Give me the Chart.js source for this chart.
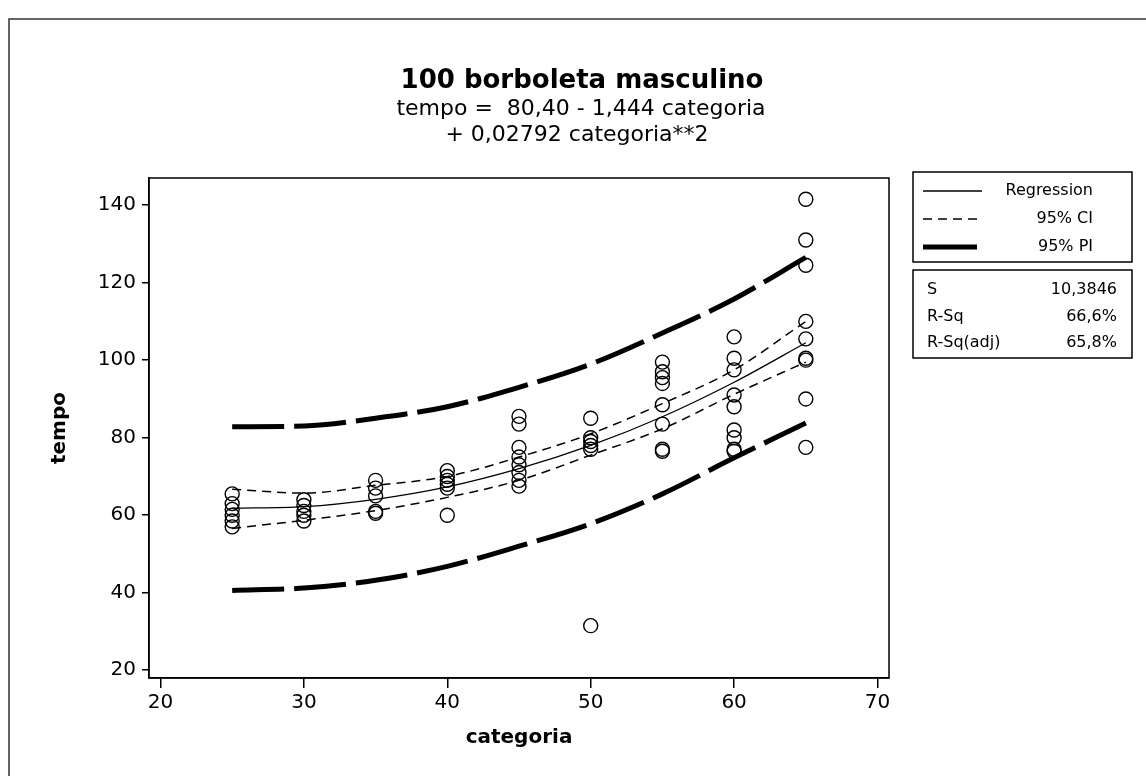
<!DOCTYPE html>
<html>
<head>
<meta charset="utf-8">
<script src="https://cdn.jsdelivr.net/npm/chart.js@4.4.1/dist/chart.umd.min.js"></script>
<style>
  html, body { margin: 0; padding: 0; background: #fff; }
  #wrap { width: 1146px; height: 776px; }
</style>
</head>
<body>
<div id="wrap"><canvas id="grafico" width="1146" height="776"></canvas></div>
<script>
// categorias onde a curva foi avaliada
var categorias = [25, 30, 35, 40, 45, 50, 55, 60, 65];

// pontos observados (categoria, tempo)
var obsCategoria = [25, 25, 25, 25, 25, 25,
                    30, 30, 30, 30, 30,
                    35, 35, 35, 35, 35,
                    40, 40, 40, 40, 40, 40,
                    45, 45, 45, 45, 45, 45, 45, 45,
                    50, 50, 50, 50, 50, 50,
                    55, 55, 55, 55, 55, 55, 55, 55,
                    60, 60, 60, 60, 60, 60, 60, 60, 60,
                    65, 65, 65, 65, 65, 65, 65, 65, 65];
var obsTempo = [65.5, 63, 61.5, 60, 58.5, 57,
                64, 62.5, 61, 60, 58.5,
                69, 67, 65, 61, 60.5,
                71.5, 70, 69, 68, 67, 60,
                85.5, 83.5, 77.5, 75, 73, 71, 69, 67.5,
                85, 80, 79, 78, 77, 31.5,
                99.5, 97, 95.5, 94, 88.5, 83.5, 77, 76.5,
                106, 100.5, 97.5, 91, 88, 82, 80, 77, 76.5,
                141.5, 131, 124.5, 110, 105.5, 100.5, 100, 90, 77.5];

// curvas
var regressao = [61.8, 62.2, 64.1, 67.3, 72.0, 78.0, 85.4, 94.3, 104.5];
var icSup = [66.7, 65.7, 67.7, 70.0, 75.0, 81.0, 88.8, 97.5, 110.0];
var icInf = [56.6, 58.7, 61.2, 64.6, 69.0, 75.5, 82.3, 91.2, 99.5];
var ipSup = [82.8, 83.0, 85.0, 88.0, 93.0, 99.0, 107.0, 115.8, 126.5];
var ipInf = [40.6, 41.2, 43.2, 46.8, 52.0, 57.8, 65.5, 74.8, 83.8];

var ticksX = [20, 30, 40, 50, 60, 70];
var ticksY = [20, 40, 60, 80, 100, 120, 140];

var titulo = '100 borboleta masculino';
var subtitulo = ['tempo =  80,40 - 1,444 categoria', '+ 0,02792 categoria**2'];
var legendaNomes = ['Regression', '95% CI', '95% PI'];
var estatNomes = ['S', 'R-Sq', 'R-Sq(adj)'];
var estatValores = ['10,3846', '66,6%', '65,8%'];

function curva(arr) {
  return categorias.map(function (c, i) { return { x: c, y: arr[i] }; });
}

var fonte = 'DejaVu Sans';

// moldura, caixa do grafico, titulo e legenda
var extras = {
  id: 'extras',
  afterDraw: function (chart) {
    var ctx = chart.ctx;
    var a = chart.chartArea;
    ctx.save();
    ctx.strokeStyle = '#333';
    ctx.lineWidth = 1.5;
    ctx.beginPath();
    ctx.moveTo(9, 776);
    ctx.lineTo(9, 19);
    ctx.lineTo(1146, 19);
    ctx.stroke();

    ctx.strokeStyle = '#000';
    ctx.lineWidth = 1.5;
    ctx.strokeRect(a.left, a.top, a.right - a.left, a.bottom - a.top);

    ctx.fillStyle = '#000';
    ctx.textAlign = 'center';
    ctx.textBaseline = 'middle';
    ctx.font = 'bold 26px ' + fonte;
    ctx.fillText(titulo, 582, 81);
    ctx.font = '22px ' + fonte;
    ctx.fillText(subtitulo[0], 581, 109);
    ctx.fillText(subtitulo[1], 577, 135);

    // legenda
    ctx.lineWidth = 1.5;
    ctx.strokeRect(913, 172, 219, 90);
    ctx.strokeRect(913, 270, 219, 88);
    var ly = [191, 219, 247];
    ctx.beginPath(); ctx.lineWidth = 1.3; ctx.setLineDash([]);
    ctx.moveTo(923, ly[0]); ctx.lineTo(982, ly[0]); ctx.stroke();
    ctx.beginPath(); ctx.lineWidth = 1.5; ctx.setLineDash([9, 6]);
    ctx.moveTo(923, ly[1]); ctx.lineTo(982, ly[1]); ctx.stroke();
    ctx.beginPath(); ctx.lineWidth = 5; ctx.setLineDash([]);
    ctx.moveTo(923, ly[2]); ctx.lineTo(977, ly[2]); ctx.stroke();
    ctx.font = '16px ' + fonte;
    ctx.textAlign = 'right';
    legendaNomes.forEach(function (n, i) { ctx.fillText(n, 1093, ly[i]); });

    var sy = [290, 317, 343];
    estatNomes.forEach(function (n, i) {
      ctx.textAlign = 'left';
      ctx.fillText(n, 927, sy[i]);
      ctx.textAlign = 'right';
      ctx.fillText(estatValores[i], 1117, sy[i]);
    });
    ctx.restore();
  }
};

var ctx = document.getElementById('grafico').getContext('2d');
var chart = new Chart(ctx, {
  type: 'scatter',
  data: {
    datasets: [{
      label: 'Regression',
      data: curva(regressao),
      showLine: true,
      borderColor: '#000',
      borderWidth: 1.3,
      pointRadius: 0,
      cubicInterpolationMode: 'monotone'
    }, {
      label: '95% CI',
      data: curva(icSup),
      showLine: true,
      borderColor: '#000',
      borderWidth: 1.5,
      borderDash: [9, 6],
      pointRadius: 0,
      cubicInterpolationMode: 'monotone'
    }, {
      label: '95% CI inf',
      data: curva(icInf),
      showLine: true,
      borderColor: '#000',
      borderWidth: 1.5,
      borderDash: [9, 6],
      pointRadius: 0,
      cubicInterpolationMode: 'monotone'
    }, {
      label: '95% PI',
      data: curva(ipSup),
      showLine: true,
      borderColor: '#000',
      borderWidth: 5,
      borderDash: [52, 10],
      pointRadius: 0,
      cubicInterpolationMode: 'monotone'
    }, {
      label: '95% PI inf',
      data: curva(ipInf),
      showLine: true,
      borderColor: '#000',
      borderWidth: 5,
      borderDash: [52, 10],
      pointRadius: 0,
      cubicInterpolationMode: 'monotone'
    }, {
      label: 'tempo',
      data: obsCategoria.map(function (c, i) { return { x: c, y: obsTempo[i] }; }),
      pointStyle: 'circle',
      pointRadius: 7,
      borderColor: '#000',
      borderWidth: 1.4,
      backgroundColor: 'rgba(0,0,0,0)'
    }]
  },
  options: {
    responsive: false,
    animation: false,
    layout: { padding: { top: 178, right: 257, bottom: 0, left: 0 } },
    plugins: {
      legend: { display: false },
      title: { display: false },
      tooltip: { enabled: false }
    },
    scales: {
      x: {
        type: 'linear',
        min: 19.2,
        max: 70.8,
        afterBuildTicks: function (s) { s.ticks = ticksX.map(function (v) { return { value: v }; }); },
        afterFit: function (s) { s.height = 98; },
        grid: { drawOnChartArea: false, drawTicks: true, tickLength: 10, color: '#000', lineWidth: 1.5 },
        border: { display: true, color: '#000', width: 1.5 },
        ticks: { color: '#000', font: { family: fonte, size: 20 }, padding: 3, maxRotation: 0 },
        title: { display: true, text: 'categoria', color: '#000', font: { family: fonte, size: 20, weight: 'bold' }, padding: { top: 0, bottom: 26 } }
      },
      y: {
        type: 'linear',
        min: 18,
        max: 147,
        afterBuildTicks: function (s) { s.ticks = ticksY.map(function (v) { return { value: v }; }); },
        afterFit: function (s) { s.width = 149; },
        grid: { drawOnChartArea: false, drawTicks: true, tickLength: 7, color: '#000', lineWidth: 1.5 },
        border: { display: true, color: '#000', width: 1.5 },
        ticks: { color: '#000', font: { family: fonte, size: 20 }, padding: 6 },
        title: { display: true, text: 'tempo', color: '#000', font: { family: fonte, size: 20, weight: 'bold' }, padding: { top: 48, bottom: 0 } }
      }
    }
  },
  plugins: [extras]
});
</script>
</body>
</html>
